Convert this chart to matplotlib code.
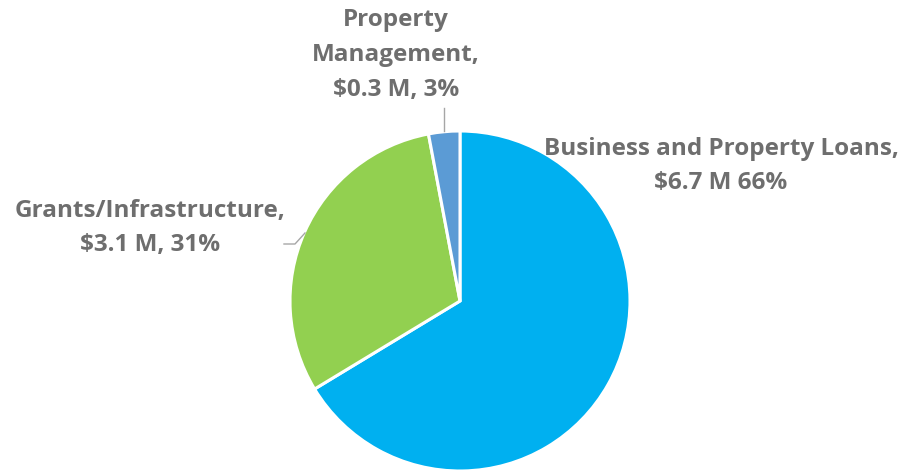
import matplotlib.pyplot as plt

# data
categories = ["Business and Property Loans", "Grants/Infrastructure", "Property Management"]
values = [6.7, 3.1, 0.3]
label_texts = [
    "Business and Property Loans,\n$6.7 M 66%",
    "Grants/Infrastructure,\n$3.1 M, 31%",
    "Property\nManagement,\n$0.3 M, 3%",
]
colors = ["#00B0F0", "#92D050", "#5B9BD5"]

W, H = 899, 472
fig = plt.figure(figsize=(W / 100, H / 100), dpi=100)
ax = fig.add_axes([0, 0, 1, 1])

cx, cy, r = 460, H - 301, 170
ax.pie(values, colors=colors, startangle=90, counterclock=False,
       center=(cx, cy), radius=r, frame=True,
       wedgeprops=dict(edgecolor="white", linewidth=2.2))
ax.set_xlim(0, W)
ax.set_ylim(0, H)
ax.set_aspect("equal")
ax.axis("off")

txt_color = "#6E6E6E"
font = dict(family="Open Sans", weight="bold", size=17.5, color=txt_color,
            ha="center", va="center", linespacing=1.6)

# label positions in pixel coords (x, y from top)
label_pos = [(721, 166), (150, 228), (396, 55)]
for txt, (x, y) in zip(label_texts, label_pos):
    ax.text(x, H - y, txt, **font)

# leader lines
line_color = "#A6A6A6"
ax.plot([444, 444], [H - 108, H - 131], color=line_color, lw=1)
ax.plot([284, 295, 305], [H - 244, H - 244, H - 233], color=line_color, lw=1)

fig.savefig("out.png", dpi=100)
